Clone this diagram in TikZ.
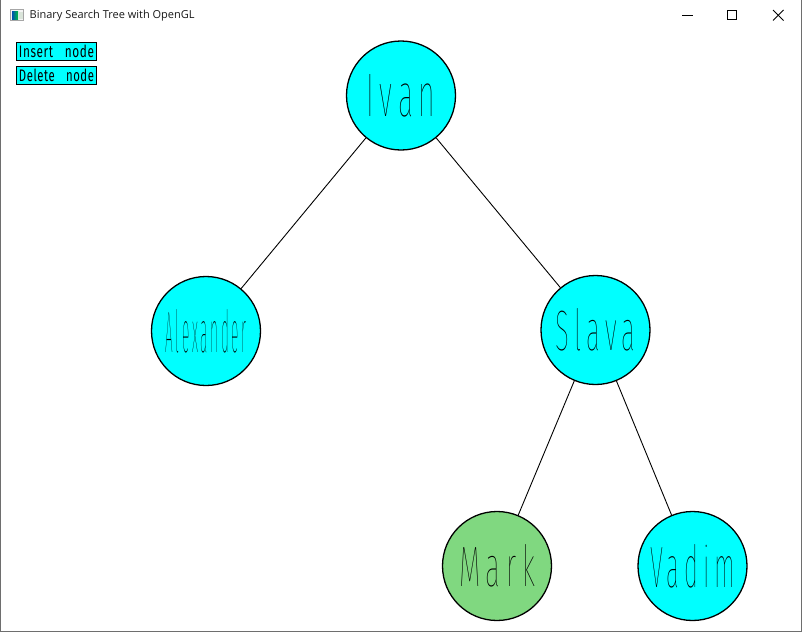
\documentclass[tikz,border=0pt]{standalone}
\usepackage{fontspec}
\usepackage{graphicx}
\setmainfont{Liberation Sans}
\newfontfamily\titlefont{Open Sans}
\newfontfamily\thinfont{Fira Sans Thin}[LetterSpace=20]
\newfontfamily\btnfont{Fira Sans}[LetterSpace=5]
\definecolor{glcyan}{RGB}{0,255,255}
\definecolor{glgreen}{RGB}{128,216,128}
\definecolor{frame}{RGB}{110,110,110}
\newcommand\lbl[3]{\resizebox{#1pt}{#2pt}{\thinfont #3}}
\newcommand\btnlbl[1]{\resizebox{75pt}{12.5pt}{\btnfont #1}}
\tikzset{
  bst/.style={circle, draw=black, line width=1.3pt, fill=glcyan, minimum size=109pt, inner sep=0pt},
  edge/.style={draw=black, line width=0.9pt},
  btn/.style={rectangle, draw=black, line width=1pt, fill=glcyan, minimum width=80.5pt, minimum height=18.5pt, inner sep=0pt},
  ctl/.style={draw=black, line width=0.8pt}
}
\begin{document}
\begin{tikzpicture}[x=1pt,y=-1pt]
\useasboundingbox (0,0) rectangle (802,632);
\fill[white] (0,0) rectangle (802,632);
% window frame
\draw[frame, line width=1pt] (0.5,0) -- (0.5,631.5) -- (801.5,631.5) -- (801.5,0);
% title bar icon
\draw[gray!70, line width=0.8pt, fill=gray!8] (10.5,9.5) rectangle (23.5,20.5);
\shade[left color=blue!55!cyan!70!black, right color=green!50!teal] (12,11.5) rectangle (18,19);
\fill[green!15!gray!25] (19,11.5) rectangle (22.5,19);
\node[anchor=west, inner sep=0pt, text=black!90, font=\titlefont\fontsize{11}{13}\selectfont] (title) at (29.5,15.5) {Binary Search Tree with OpenGL};
% window controls
\coordinate (minA) at (682,15.5); \coordinate (minB) at (692.5,15.5);
\draw[ctl] (minA) -- (minB);
\coordinate (maxA) at (727.5,10.5); \coordinate (maxB) at (736.5,19.5);
\draw[ctl] (maxA) rectangle (maxB);
\coordinate (xA) at (773,10); \coordinate (xB) at (783.5,20.5);
\coordinate (xC) at (773,20.5); \coordinate (xD) at (783.5,10);
\draw[ctl] (xA) -- (xB); \draw[ctl] (xC) -- (xD);
% buttons
\node[btn] (ins) at (56.5,51.5) {\raisebox{-1pt}{\btnlbl{Insert\hspace{1em}node}}};
\node[btn] (del) at (56.5,75.5) {\raisebox{-1pt}{\btnlbl{Delete\hspace{1em}node}}};
% tree nodes
\node[bst] (ivan) at (401,95.5) {\lbl{69}{42}{Ivan}};
\node[bst] (alex) at (206,331) {\lbl{81}{43}{Alexander}};
\node[bst] (slava) at (595.5,330) {\lbl{80}{42}{Slava}};
\node[bst, fill=glgreen] (mark) at (497,566) {\lbl{76}{42}{Mark}};
\node[bst] (vadim) at (692.5,566) {\lbl{85}{43}{Vadim}};
% edges
\draw[edge] (ivan) -- (alex);
\draw[edge] (ivan) -- (slava);
\draw[edge] (slava) -- (mark);
\draw[edge] (slava) -- (vadim);
\end{tikzpicture}
\end{document}
